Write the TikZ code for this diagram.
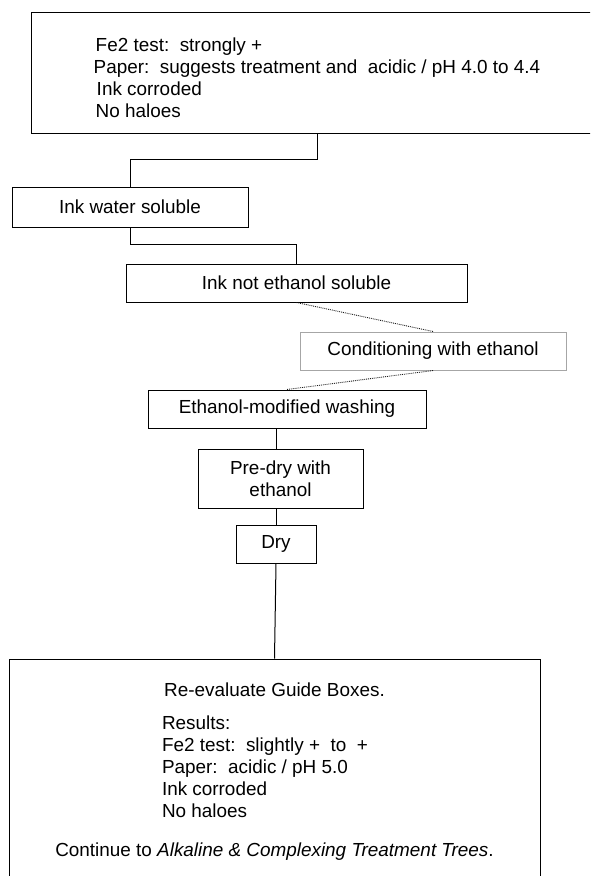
\documentclass[tikz,border=0pt]{standalone}
\usepackage{fontspec}
\setmainfont{Liberation Sans}
\usetikzlibrary{positioning}
\newcommand{\resline}[1]{\makebox[225pt][l]{#1}}
\begin{document}
\begin{tikzpicture}[x=1pt, y=1pt,
  box/.style = {draw, line width=1pt, inner sep=0pt, align=center, font=\fontsize{18.9}{22}\selectfont},
  softbox/.style = {box, draw=black!35},
  link/.style = {line width=1pt},
  faint/.style = {line width=0.9pt, densely dotted, black!90}]
\useasboundingbox (0,0) rectangle (590,-876);
\clip (0,0) rectangle (590,-876);
\node[box, align=left, minimum width=572pt, minimum height=121pt] (top) at (317,-72.5) {\rule{0pt}{24pt}\hspace{2pt}Fe2 test:\ \ strongly +\\ Paper:\ \ suggests treatment and\ \ acidic / pH 4.0 to 4.4\\ \hspace{3pt}Ink corroded\\ \hspace{2pt}No haloes};
\node[box, minimum width=236pt, minimum height=40pt] (water) [below=53pt of top.south, xshift=-187pt] {Ink water soluble};
\node[box, minimum width=341pt, minimum height=38pt] (noteth) [below=36pt of water.south, xshift=166.5pt] {Ink not ethanol soluble};
\node[softbox, minimum width=266pt, minimum height=38pt] (cond) [below=29pt of noteth.south, xshift=136.5pt] {Conditioning with ethanol};
\node[box, minimum width=278pt, minimum height=38pt] (washing) [below=19pt of cond.south, xshift=-146pt] {Ethanol-modified washing};
\node[box, minimum width=165pt, minimum height=59pt] (predry) [below=20pt of washing.south, xshift=-6.5pt] {Pre-dry with\\ ethanol};
\node[box, minimum width=80pt, minimum height=38pt] (dry) [below=16pt of predry.south, xshift=-4.5pt] {Dry};
\node[box, minimum width=531pt, minimum height=226pt] (final) [below=95pt of dry.south, xshift=-1.5pt] {Re-evaluate Guide Boxes.\\[11pt]
  \resline{Results:}\\
  \resline{Fe2 test:\ \ slightly +\ \ to\ \ +}\\
  \resline{Paper:\ \ acidic / pH 5.0}\\
  \resline{Ink corroded}\\
  \resline{No haloes}\\[17pt]
  Continue to \textit{Alkaline \& Complexing Treatment Trees}.};
\draw[link] (top.south) -- ++(0,-26) -| (water.north);
\draw[link] (water.south) -- ++(0,-17) -| (noteth.north);
\draw[faint] (noteth.south) -- (cond.north);
\draw[faint] (cond.south) -- (washing.north);
\draw[link] (washing.south -| dry.north) -- (predry.north -| dry.north);
\draw[link] (predry.south -| dry.north) -- (dry.north);
\draw[link] (dry.south) -- (final.north);
\end{tikzpicture}
\end{document}
